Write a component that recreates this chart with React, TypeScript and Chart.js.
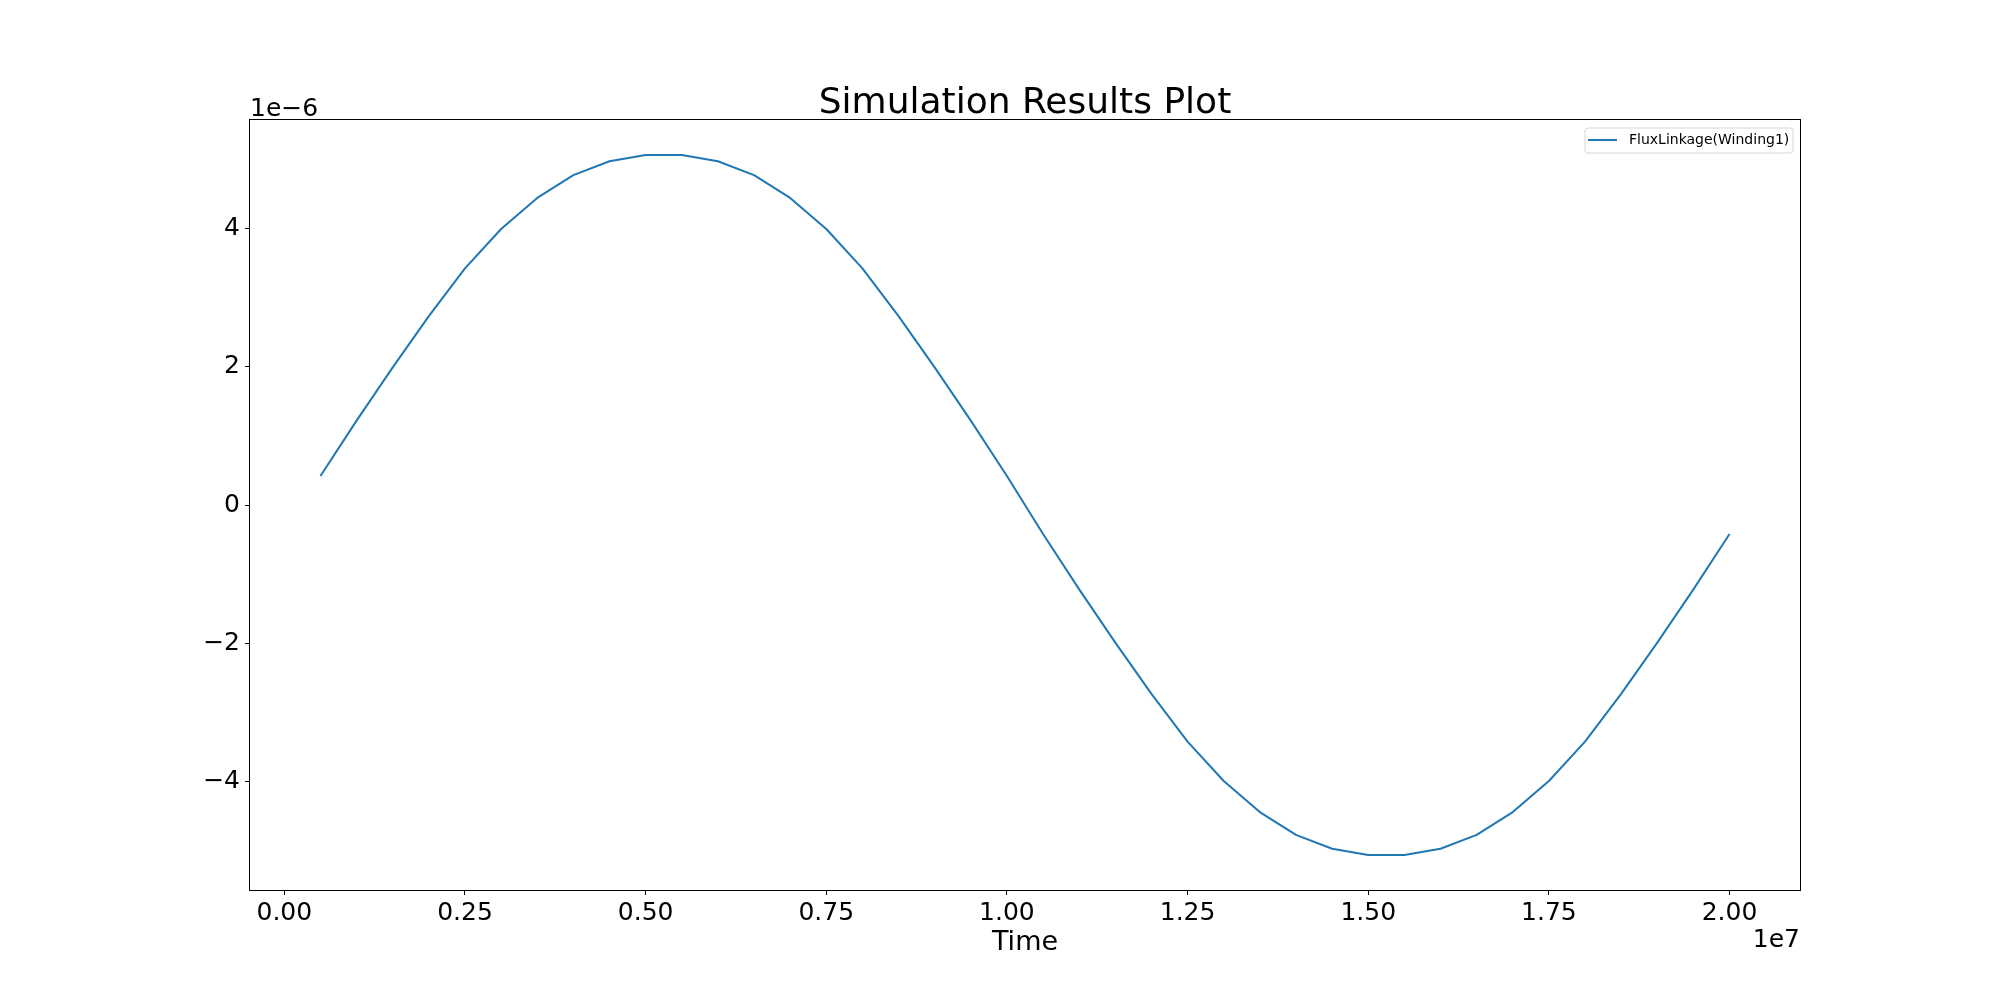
import React, { useEffect, useRef } from "react";
import { Chart, registerables } from "chart.js";

Chart.register(...registerables);

// ---- data ----
const timeValues: number[] = [
  5e5, 1e6, 1.5e6, 2e6, 2.5e6, 3e6, 3.5e6, 4e6, 4.5e6, 5e6,
  5.5e6, 6e6, 6.5e6, 7e6, 7.5e6, 8e6, 8.5e6, 9e6, 9.5e6, 1e7,
  1.05e7, 1.1e7, 1.15e7, 1.2e7, 1.25e7, 1.3e7, 1.35e7, 1.4e7, 1.45e7, 1.5e7,
  1.55e7, 1.6e7, 1.65e7, 1.7e7, 1.75e7, 1.8e7, 1.85e7, 1.9e7, 1.95e7, 2e7,
];

const fluxLinkageValues: number[] = [
  0.42e-6, 1.22e-6, 1.99e-6, 2.73e-6, 3.42e-6, 3.99e-6, 4.44e-6, 4.77e-6, 4.97e-6, 5.06e-6,
  5.06e-6, 4.97e-6, 4.77e-6, 4.44e-6, 3.99e-6, 3.42e-6, 2.73e-6, 1.99e-6, 1.22e-6, 0.42e-6,
  -0.42e-6, -1.22e-6, -1.99e-6, -2.73e-6, -3.42e-6, -3.99e-6, -4.44e-6, -4.77e-6, -4.97e-6, -5.06e-6,
  -5.06e-6, -4.97e-6, -4.77e-6, -4.44e-6, -3.99e-6, -3.42e-6, -2.73e-6, -1.99e-6, -1.22e-6, -0.42e-6,
];

const xTickValues: number[] = [0, 2.5e6, 5e6, 7.5e6, 1e7, 1.25e7, 1.5e7, 1.75e7, 2e7];
const yTickValues: number[] = [-4e-6, -2e-6, 0, 2e-6, 4e-6];

const seriesLabel = "FluxLinkage(Winding1)";
const titleText = "Simulation Results Plot";
const xAxisLabel = "Time";
const yOffsetText = "1e\u22126";
const xOffsetText = "1e7";

const FONT = "'DejaVu Sans', sans-serif";
const LINE_COLOR = "#1f77b4";

const decorPlugin = {
  id: "decor",
  afterDraw(chart: any) {
    const { ctx, chartArea } = chart;
    const { left, top, right, bottom } = chartArea;
    ctx.save();
    // frame
    ctx.strokeStyle = "#000";
    ctx.lineWidth = 1;
    ctx.strokeRect(Math.round(left) - 0.5, Math.round(top) - 0.5, Math.round(right - left) + 1, Math.round(bottom - top) + 1);

    ctx.fillStyle = "#000";
    // title
    ctx.font = `36px ${FONT}`;
    ctx.textAlign = "center";
    ctx.textBaseline = "alphabetic";
    ctx.fillText(titleText, (left + right) / 2, top - 7);

    // y offset text
    ctx.font = `25px ${FONT}`;
    ctx.textAlign = "left";
    ctx.fillText(yOffsetText, left, top - 4);

    // x offset text
    ctx.textAlign = "right";
    ctx.fillText(xOffsetText, right, bottom + 57);

    // x label
    ctx.font = `27px ${FONT}`;
    ctx.textAlign = "center";
    ctx.fillText(xAxisLabel, (left + right) / 2, bottom + 60);

    // legend
    const bx = right - 215;
    const by = top + 8;
    const bw = 208;
    const bh = 25;
    const r = 3;
    ctx.beginPath();
    ctx.moveTo(bx + r, by);
    ctx.lineTo(bx + bw - r, by);
    ctx.arcTo(bx + bw, by, bx + bw, by + r, r);
    ctx.lineTo(bx + bw, by + bh - r);
    ctx.arcTo(bx + bw, by + bh, bx + bw - r, by + bh, r);
    ctx.lineTo(bx + r, by + bh);
    ctx.arcTo(bx, by + bh, bx, by + bh - r, r);
    ctx.lineTo(bx, by + r);
    ctx.arcTo(bx, by, bx + r, by, r);
    ctx.closePath();
    ctx.fillStyle = "rgba(255,255,255,0.8)";
    ctx.fill();
    ctx.strokeStyle = "#d6d6d6";
    ctx.lineWidth = 1;
    ctx.stroke();

    ctx.strokeStyle = LINE_COLOR;
    ctx.lineWidth = 2;
    ctx.beginPath();
    ctx.moveTo(bx + 3, by + 12);
    ctx.lineTo(bx + 32, by + 12);
    ctx.stroke();

    ctx.fillStyle = "#000";
    ctx.font = `14px ${FONT}`;
    ctx.textAlign = "left";
    ctx.textBaseline = "middle";
    ctx.fillText(seriesLabel, bx + 44, by + 12.5);
    ctx.restore();
  },
};

function formatY(v: number): string {
  const n = Math.round(v * 1e6);
  return n < 0 ? "\u2212" + Math.abs(n) : String(n);
}

export default function App() {
  const canvasRef = useRef<HTMLCanvasElement | null>(null);

  useEffect(() => {
    document.body.style.margin = "0";
    const canvas = canvasRef.current;
    if (!canvas) return;
    const points = timeValues.map((t, i) => ({ x: t, y: fluxLinkageValues[i] }));
    const chart = new Chart(canvas, {
      type: "line",
      data: {
        datasets: [
          {
            label: seriesLabel,
            data: points,
            borderColor: LINE_COLOR,
            backgroundColor: LINE_COLOR,
            borderWidth: 2,
            pointRadius: 0,
            fill: false,
            tension: 0,
            borderJoinStyle: "round",
          },
        ],
      },
      options: {
        responsive: false,
        animation: false,
        devicePixelRatio: 1,
        layout: { padding: { left: 0, right: 200, top: 120, bottom: 0 } },
        plugins: {
          legend: { display: false },
          title: { display: false },
          tooltip: { enabled: false },
        },
        scales: {
          x: {
            type: "linear",
            min: -475000,
            max: 20975000,
            afterBuildTicks: (s: any) => {
              s.ticks = xTickValues.map((v) => ({ value: v }));
            },
            afterFit: (s: any) => {
              s.height = 110;
            },
            grid: {
              display: true,
              drawOnChartArea: false,
              drawTicks: true,
              tickLength: 5,
              tickColor: "#000",
              color: "#000",
              lineWidth: 1,
            },
            border: { display: false },
            ticks: {
              padding: 3,
              color: "#000",
              autoSkip: false,
              maxRotation: 0,
              font: { family: FONT, size: 25 },
              callback: (v: any) => (Number(v) / 1e7).toFixed(2),
            },
          },
          y: {
            type: "linear",
            min: -5.566e-6,
            max: 5.566e-6,
            afterBuildTicks: (s: any) => {
              s.ticks = yTickValues.map((v) => ({ value: v }));
            },
            afterFit: (s: any) => {
              s.width = 250;
            },
            grid: {
              display: true,
              drawOnChartArea: false,
              drawTicks: true,
              tickLength: 5,
              tickColor: "#000",
              color: "#000",
              lineWidth: 1,
            },
            border: { display: false },
            ticks: {
              padding: 5,
              color: "#000",
              autoSkip: false,
              font: { family: FONT, size: 25 },
              callback: (v: any) => formatY(Number(v)),
            },
          },
        },
      },
      plugins: [decorPlugin],
    } as any);
    return () => chart.destroy();
  }, []);

  return (
    <div style={{ width: 2000, height: 1000, background: "#fff" }}>
      <canvas ref={canvasRef} width={2000} height={1000} style={{ display: "block" }} />
    </div>
  );
}
